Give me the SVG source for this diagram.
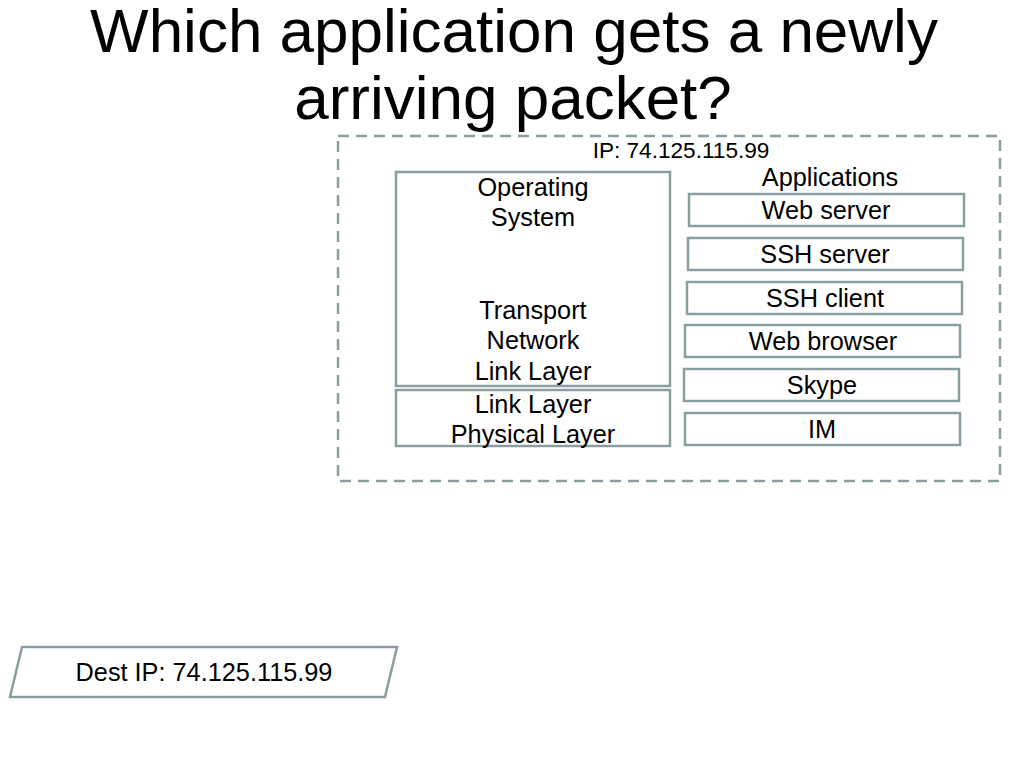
<svg xmlns="http://www.w3.org/2000/svg" width="1024" height="768" viewBox="0 0 1024 768">
<style>
text{font-family:"Liberation Sans",Arial,sans-serif;fill:#000;text-anchor:middle}
.box{fill:#fff;stroke:#8a9ea2;stroke-width:2.5}
.t{font-size:25.3px}
.title{font-size:62px}
</style>
<rect width="1024" height="768" fill="#fff"/>
<text class="title" x="514" y="52">Which application gets a newly</text>
<text class="title" x="513" y="119">arriving packet?</text>
<g id="host">
<rect x="338" y="136" width="662" height="345" fill="none" stroke="#8a9ea2" stroke-width="2.5" stroke-dasharray="11,7"/>
<text x="681" y="158" style="font-size:22.6px">IP: 74.125.115.99</text>
</g>
<g id="os">
<rect class="box" x="396" y="172" width="274" height="214"/>
<text class="t" x="533" y="196">Operating</text>
<text class="t" x="533" y="226">System</text>
<text class="t" x="533" y="319">Transport</text>
<text class="t" x="533" y="349">Network</text>
<text class="t" x="533" y="380">Link Layer</text>
</g>
<g id="hw">
<rect class="box" x="396" y="390" width="274" height="56"/>
<text class="t" x="533" y="413">Link Layer</text>
<text class="t" x="533" y="443">Physical Layer</text>
</g>
<g id="apps-label"><text class="t" x="830" y="186">Applications</text></g>
<g id="webserver"><rect class="box" x="689" y="194" width="275" height="32"/><text class="t" x="826" y="219">Web server</text></g>
<g id="sshserver"><rect class="box" x="688" y="238" width="275" height="32"/><text class="t" x="825" y="263">SSH server</text></g>
<g id="sshclient"><rect class="box" x="687" y="282" width="275" height="32"/><text class="t" x="825" y="307">SSH client</text></g>
<g id="webbrowser"><rect class="box" x="685" y="325" width="275" height="32"/><text class="t" x="823" y="350">Web browser</text></g>
<g id="skype"><rect class="box" x="684" y="369" width="275" height="32"/><text class="t" x="822" y="394">Skype</text></g>
<g id="im"><rect class="box" x="685" y="413" width="275" height="32"/><text class="t" x="822" y="438">IM</text></g>
<g id="packet">
<polygon class="box" points="22,647 397,647 385,697 10,697"/>
<text class="t" x="204" y="681">Dest IP: 74.125.115.99</text>
</g>
<g id="connectors"></g>
</svg>
